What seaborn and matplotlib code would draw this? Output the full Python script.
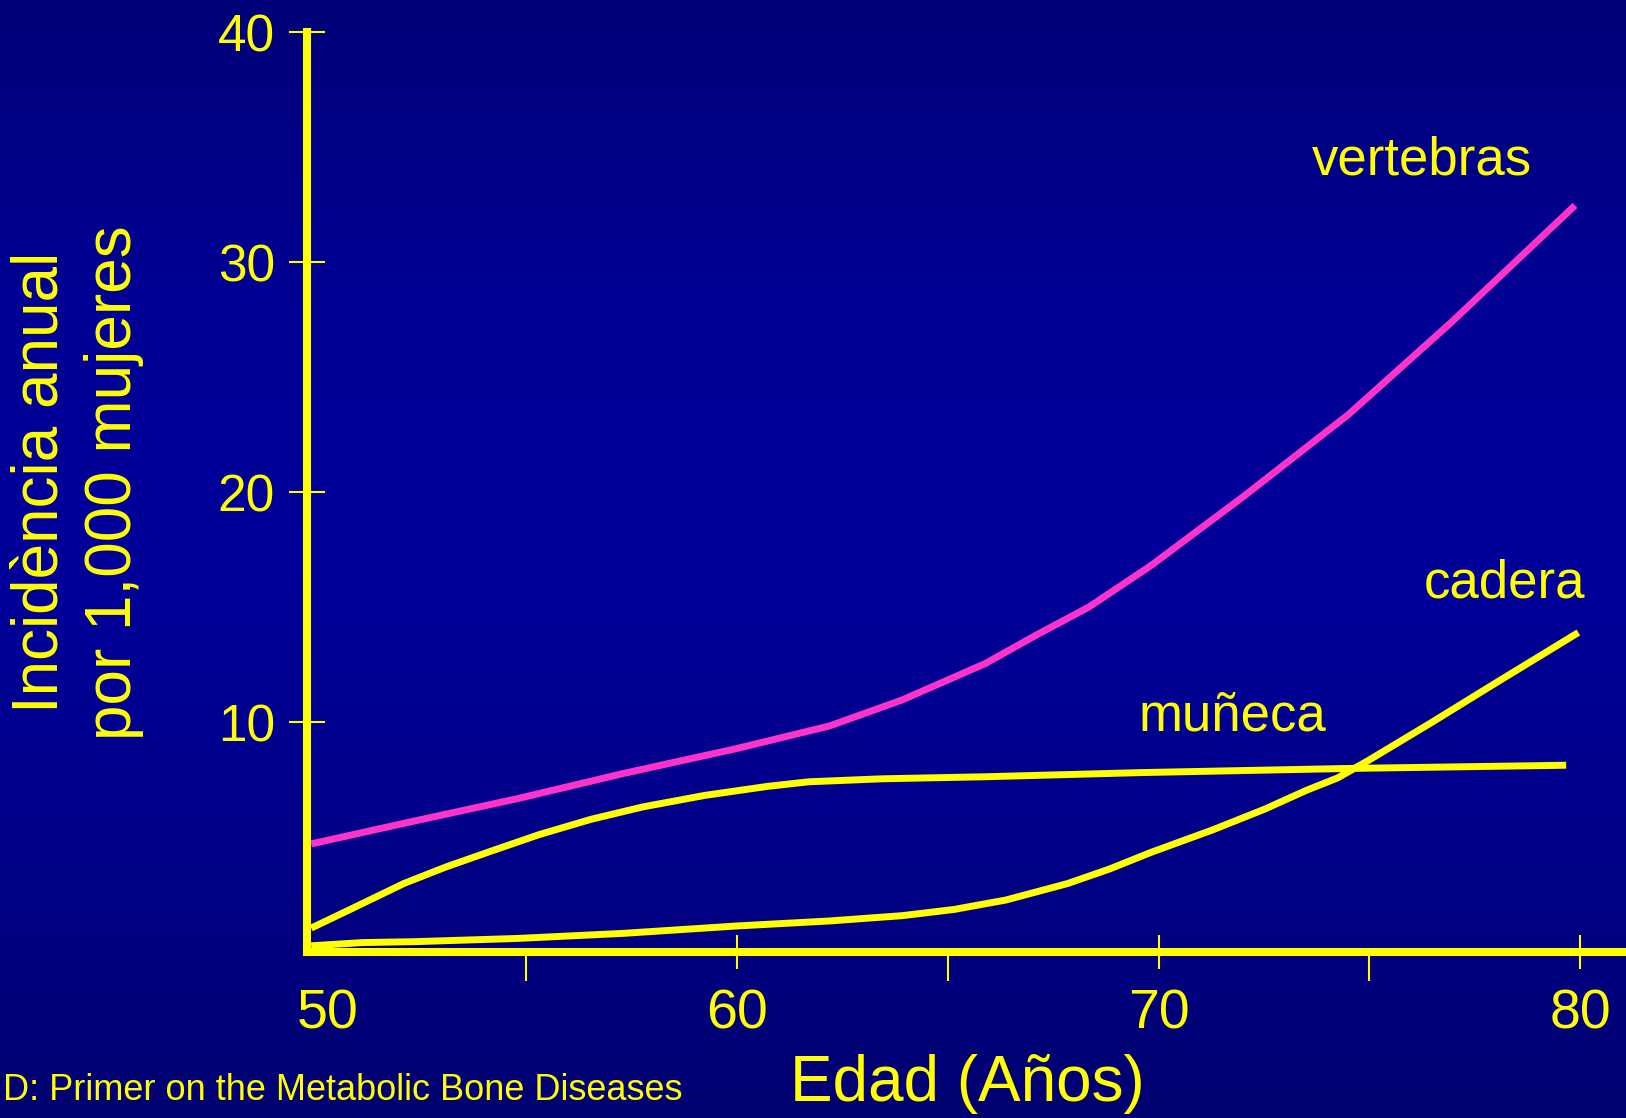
import numpy as np
import pandas as pd
import matplotlib
matplotlib.use("Agg")
import matplotlib.pyplot as plt
from matplotlib.colors import LinearSegmentedColormap
from matplotlib.transforms import ScaledTranslation
import seaborn as sns

# Data (age in years, incidence per 1,000 women)
vert_age = [49.9, 52.36, 54.8, 57.3, 59.98, 62.2, 63.92, 65.89, 67.12, 68.35,
            69.82, 72.04, 74.5, 76.96, 79.88]
vert_inc = [4.7, 5.7, 6.67, 7.76, 8.84, 9.83, 10.96, 12.54, 13.8, 15.0,
            16.8, 19.84, 23.36, 27.4, 32.46]

cadera_age = [49.9, 51.12, 52.36, 54.8, 57.3, 59.98, 62.2, 63.92, 65.15, 66.38, 67.85,
              68.84, 69.82, 71.3, 72.53, 73.51, 74.25, 74.99, 76.47, 77.94, 79.96]
cadera_inc = [0.27, 0.41, 0.45, 0.59, 0.81, 1.13, 1.35, 1.58, 1.85, 2.26, 2.98,
              3.61, 4.33, 5.32, 6.22, 7.03, 7.57, 8.34, 9.97, 11.63, 13.89]

muneca_age = [49.9, 50.88, 52.1, 53.1, 54.08, 55.3, 56.54, 57.77, 59.24, 60.72,
              61.7, 63.43, 65.9, 69.58, 74.5, 79.67]
muneca_inc = [1.04, 1.9, 2.98, 3.7, 4.33, 5.1, 5.77, 6.31, 6.81, 7.2,
              7.4, 7.53, 7.62, 7.8, 7.98, 8.12]

x_major = [50, 60, 70, 80]
x_minor = [55, 65, 75]
y_ticks = [10, 20, 30, 40]

YELLOW = "#ffff00"
MAGENTA = "#ff33cc"

sns.set_style("white")
plt.rcParams["font.family"] = ["Liberation Sans", "DejaVu Sans"]

fig = plt.figure(figsize=(16.26, 11.18), dpi=100)

# slide background gradient
bg = fig.add_axes([0, 0, 1, 1], zorder=-5)
cmap = LinearSegmentedColormap.from_list(
    "slide", [(0, "#000078"), (0.27, "#000094"), (0.5, "#00009a"), (0.76, "#000088"), (1, "#000070")])
bg.imshow(np.linspace(0, 1, 256).reshape(-1, 1), aspect="auto", cmap=cmap, extent=[0, 1, 0, 1])
bg.axis("off")

ax = fig.add_axes([307 / 1626, 1 - 952 / 1118, 1 - 307 / 1626, 920 / 1118])
ax.patch.set_alpha(0)

line_kw = dict(lw=5, ax=ax, solid_capstyle="butt", solid_joinstyle="round")
sns.lineplot(data=pd.DataFrame({"x": vert_age, "y": vert_inc}), x="x", y="y",
             color=MAGENTA, **line_kw)
sns.lineplot(data=pd.DataFrame({"x": muneca_age, "y": muneca_inc}), x="x", y="y",
             color=YELLOW, **line_kw)
sns.lineplot(data=pd.DataFrame({"x": cadera_age, "y": cadera_inc}), x="x", y="y",
             color=YELLOW, **line_kw)

ax.set_xlim(49.8, 81.09)
ax.set_ylim(0, 40)

for side in ["top", "right"]:
    ax.spines[side].set_visible(False)
for side in ["left", "bottom"]:
    ax.spines[side].set_color(YELLOW)
    ax.spines[side].set_linewidth(5.8)

ax.set_xticks(x_major)
ax.set_xticks(x_minor, minor=True)
ax.set_yticks(y_ticks)
ax.tick_params(which="both", bottom=True, left=True)
ax.tick_params(axis="x", which="major", direction="inout", length=24, width=1.5,
               color=YELLOW, labelcolor=YELLOW, labelsize=40, pad=14)
ax.tick_params(axis="x", which="minor", direction="out", length=21, width=1.5, color=YELLOW)
ax.tick_params(axis="y", direction="inout", length=26, width=1.5,
               color=YELLOW, labelcolor=YELLOW, labelsize=37, pad=10)
ax.set_xlabel("")
ax.set_ylabel("")

# no tick mark at 50 (hidden by the y axis on the slide), label sits a bit right
ax.xaxis.get_major_ticks()[0].tick1line.set_visible(False)
lbl50 = ax.get_xticklabels()[0]
lbl50.set_transform(lbl50.get_transform() + ScaledTranslation(0.12, 0, fig.dpi_scale_trans))

ax.text(76.25, 34.4, "vertebras", color=YELLOW, fontsize=38, ha="center", va="center")
ax.text(78.2, 16.0, "cadera", color=YELLOW, fontsize=38, ha="center", va="center")
ax.text(71.75, 10.26, "muñeca", color=YELLOW, fontsize=38, ha="center", va="center")

fig.text(967 / 1626, 1 - 1084 / 1118, "Edad (Años)", color=YELLOW, fontsize=46,
         ha="center", va="center")
fig.text(41 / 1626, 1 - 482 / 1118, "Incidència anual", color=YELLOW, fontsize=46,
         rotation=90, ha="center", va="center")
fig.text(114 / 1626, 1 - 483 / 1118, "por 1,000 mujeres", color=YELLOW, fontsize=46,
         rotation=90, ha="center", va="center")
fig.text(3 / 1626, 1 - 1091 / 1118, "D: Primer on the Metabolic Bone Diseases",
         color=YELLOW, fontsize=26, ha="left", va="center")

fig.savefig("out.png", dpi=100)
plt.close(fig)
